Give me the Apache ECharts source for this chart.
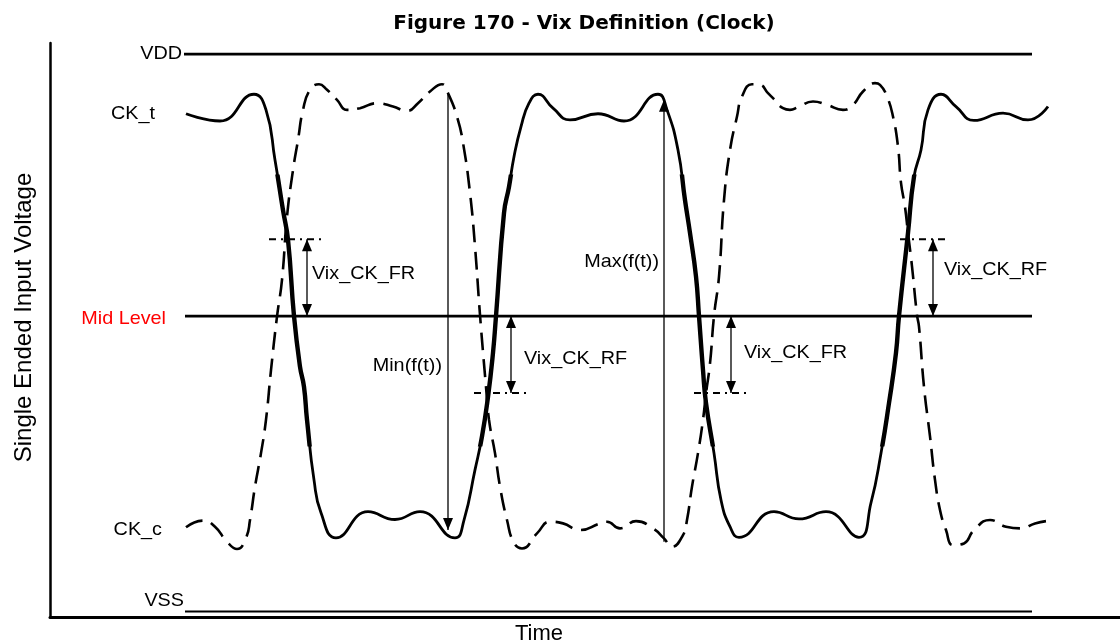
<!DOCTYPE html>
<html><head><meta charset="utf-8">
<script src="https://cdn.jsdelivr.net/npm/echarts@6/dist/echarts.min.js"></script>
<style>html,body{margin:0;padding:0;background:#fff}#c{width:1120px;height:644px}</style>
</head><body><div id="c"></div>
<script>
// ---- text ----
const titleText = 'Figure 170 - Vix Definition (Clock)';
const xName = 'Time';
const yName = 'Single Ended Input Voltage';

// ---- reference levels (voltage normalised: VSS = 0, VDD = 100) ----
const levelValues = [100, 53, 0];          // VDD, Mid Level, VSS
const levelStart  = [13.4, 13.5, 13.5];    // time
const levelEnd    = [98.2, 98.2, 98.2];

// ---- CK_t (solid) [time, voltage] ----
const ckT = [[13.6,89.3],[17.0,88.0],[20.4,92.8],[21.6,90.0],[22.5,81.0],[23.3,72.0],[23.8,66.7],[24.4,53.0],[25.0,43.9],[25.4,40.3],[25.7,34.4],[26.4,23.6],[27.1,17.7],[28.6,13.2],[31.8,17.9],[34.5,16.5],[37.0,17.9],[40.5,13.2],[41.4,16.4],[42.5,25.4],[43.2,31.4],[43.8,38.5],[44.3,46.4],[44.6,53.0],[45.4,71.5],[45.9,76.2],[46.4,81.6],[47.1,87.0],[47.9,91.2],[48.8,92.8],[50.3,90.3],[52.0,88.2],[54.8,89.3],[57.4,88.0],[60.8,92.8],[61.7,90.0],[62.8,82.8],[63.5,73.8],[64.0,67.9],[64.6,60.1],[64.9,53.0],[65.3,43.3],[65.6,37.4],[66.4,28.4],[67.1,20.0],[68.0,15.2],[68.9,13.3],[72.4,17.9],[74.9,16.6],[77.6,17.9],[80.9,13.3],[82.1,19.5],[83.1,28.4],[83.9,37.4],[84.6,46.4],[84.9,53.0],[85.8,67.9],[86.4,78.0],[87.1,82.8],[87.8,90.0],[89.1,92.8],[90.6,90.6],[92.4,88.1],[95.3,89.4],[97.8,88.2],[99.8,90.6]];

// ---- CK_c (dashed) [time, voltage] ----
const ckC = [[13.6,15.1],[15.3,16.3],[16.5,15.2],[17.7,12.5],[18.7,11.2],[19.6,13.2],[20.0,16.4],[20.5,22.4],[21.1,28.4],[21.6,34.4],[22.1,43.3],[22.7,52.9],[23.2,59.5],[23.7,70.8],[24.3,79.2],[24.8,84.6],[25.3,90.0],[26.0,93.6],[26.9,94.6],[27.7,93.6],[28.7,91.8],[29.7,90.0],[31.0,90.3],[32.7,91.2],[34.3,90.6],[35.7,89.8],[36.8,91.2],[38.0,93.3],[39.2,94.6],[39.8,93.0],[40.7,88.8],[41.3,84.1],[42.0,75.1],[42.5,65.5],[43.0,53.2],[43.6,40.3],[43.9,34.4],[44.5,28.4],[45.0,22.4],[45.7,16.4],[46.4,12.3],[47.2,11.3],[48.7,14.0],[50.0,16.1],[51.3,15.8],[53.0,14.6],[55.0,15.8],[55.7,16.1],[57.0,14.9],[58.6,16.2],[60.3,14.9],[61.4,13.1],[62.2,11.6],[63.3,13.7],[63.7,16.4],[64.2,22.4],[64.8,28.4],[65.3,34.4],[65.6,39.1],[66.0,44.5],[66.4,53.0],[66.9,60.1],[67.4,73.8],[68.0,82.8],[68.7,88.8],[69.2,92.4],[70.2,94.6],[71.0,94.5],[71.8,93.0],[72.3,92.1],[73.3,90.3],[74.0,90.0],[74.8,90.5],[76.3,91.5],[77.7,90.9],[79.3,90.0],[80.3,90.9],[81.3,93.3],[82.5,94.8],[83.0,94.5],[83.7,92.4],[84.3,88.8],[84.8,83.4],[85.1,76.9],[85.5,72.6],[85.8,67.9],[86.2,61.9],[86.7,53.2],[86.9,51.1],[87.4,40.3],[88.0,31.4],[88.5,23.6],[89.0,18.2],[89.6,14.6],[90.3,11.9],[91.4,12.2],[92.4,14.6],[94.0,16.4],[95.6,15.2],[97.1,14.9],[98.5,15.8],[99.6,16.2]];

// ---- Vix reference (dash-dot) lines [timeFrom, timeTo, voltage] ----
const vixLines = [[21.9,27.3,66.8],[42.4,47.9,39.2],[64.4,69.8,39.2],[85.0,90.0,66.8]];

// ---- arrows [time, vFrom, vTo, headAtFrom, headAtTo] ----
const arrows = [[25.7,66.8,53.0,1,1],[39.8,92.8,14.6,0,1],[46.1,53.0,39.2,1,1],[61.4,12.5,91.8,0,1],[68.1,53.0,39.2,1,1],[88.3,66.8,53.0,1,1]];

// ---- annotation labels ----
const labelTexts = ['VDD','CK_t','Mid Level','CK_c','VSS','Vix_CK_FR','Min(f(t))','Vix_CK_RF','Max(f(t))','Vix_CK_FR','Vix_CK_RF'];
const labelPos   = [[13.2,100],[10.5,89.3],[11.6,52.5],[11.2,14.6],[13.4,1.9],[26.2,60.6],[39.2,44.0],[47.4,45.3],[60.9,62.8],[69.4,46.3],[89.4,61.3]];
const labelAlign = ['right','right','right','right','right','left','right','left','right','left','left'];
const labelColor = ['#000','#000','#ff0000','#000','#000','#000','#000','#000','#000','#000','#000'];

// band of the CK_t edges drawn heavier (voltage range)
const edgeBand = [30, 78];

const FONT = '"Liberation Sans", Arial, sans-serif';
const Y_MIN = -1, Y_MAX = 102, GRID_TOP = 43, GRID_BOTTOM = 27, H = 644;
const pxPerV = (H - GRID_TOP - GRID_BOTTOM) / (Y_MAX - Y_MIN);

const hiddenAxis = {show:false};
const series = [];
levelValues.forEach((v, i) => {
  series.push({type:'line', silent:true, symbol:'none',
    data:[[levelStart[i], v],[levelEnd[i], v]],
    lineStyle:{color:'#000', width: i === 2 ? 2 : 2.7}});
});
vixLines.forEach(l => {
  series.push({type:'line', silent:true, symbol:'none',
    data:[[l[0], l[2]],[l[1], l[2]]],
    lineStyle:{color:'#000', width:2, type:[7,5,2,5]}});
});
series.push({name:'CK_c', type:'line', symbol:'none', smooth:0.5, data:ckC,
  lineStyle:{color:'#000', width:2.6, type:[18,9]}});
series.push({name:'CK_t', type:'line', symbol:'none', smooth:0.5, data:ckT,
  lineStyle:{color:'#000', width:2.8}});
// same CK_t curve on a grid clipped to the edge band -> heavier stroke on the edges
series.push({name:'CK_t edge', type:'line', symbol:'none', smooth:0.5, data:ckT, clip:true,
  xAxisIndex:1, yAxisIndex:1, lineStyle:{color:'#000', width:4.4}});
series.push({type:'custom', silent:true, data:arrows, encode:{x:0, y:[1,2]},
  renderItem:(params, api) => {
    const x = api.value(0);
    const p1 = api.coord([x, api.value(1)]), p2 = api.coord([x, api.value(2)]);
    const children = [{type:'line', shape:{x1:p1[0], y1:p1[1], x2:p2[0], y2:p2[1]}, style:{stroke:'#000', lineWidth:1.3}}];
    const head = (tip, from) => {
      const dx = tip[0]-from[0], dy = tip[1]-from[1];
      const L = Math.hypot(dx, dy) || 1, ux = dx/L, uy = dy/L, hl = 12, hw = 5;
      return {type:'polygon', shape:{points:[[tip[0], tip[1]],
        [tip[0]-ux*hl - uy*hw, tip[1]-uy*hl + ux*hw],
        [tip[0]-ux*hl + uy*hw, tip[1]-uy*hl - ux*hw]]}, style:{fill:'#000'}};
    };
    if (api.value(3)) children.push(head(p1, p2));
    if (api.value(4)) children.push(head(p2, p1));
    return {type:'group', children};
  }});
series.push({type:'custom', silent:true, data:labelPos,
  renderItem:(params, api) => {
    const i = params.dataIndex;
    const p = api.coord([api.value(0), api.value(1)]);
    return {type:'text', x:p[0], y:p[1], scaleX:1.07,
      style:{text:labelTexts[i], fill:labelColor[i], fontSize:18.5, fontFamily:FONT,
        align:labelAlign[i], verticalAlign:'middle'}};
  }});

const chart = echarts.init(document.getElementById('c'), null, {renderer:'canvas'});
chart.setOption({
  animation:false,
  backgroundColor:'#fff',
  title:{text:titleText, left:584, top:14, textAlign:'center', padding:0,
    textStyle:{fontFamily:'"DejaVu Sans"', fontWeight:'bold', fontSize:20, color:'#000'}},
  grid:[
    {left:50, right:0, top:GRID_TOP, bottom:GRID_BOTTOM, containLabel:false, outerBoundsMode:'none'},
    {left:50, right:0, top:GRID_TOP + (Y_MAX - edgeBand[1]) * pxPerV,
      bottom:GRID_BOTTOM + (edgeBand[0] - Y_MIN) * pxPerV, containLabel:false, outerBoundsMode:'none'}
  ],
  xAxis:[
    {type:'value', min:0, max:107, name:xName, nameLocation:'middle', nameGap:6,
      nameTextStyle:{fontFamily:FONT, fontSize:22, color:'#000', padding:[0,92,0,0]},
      axisLine:{show:true, onZero:false, lineStyle:{color:'#000', width:3}},
      axisTick:{show:false}, axisLabel:{show:false}, splitLine:{show:false}},
    {type:'value', gridIndex:1, min:0, max:107, show:false, splitLine:{show:false}}
  ],
  yAxis:[
    {type:'value', min:Y_MIN, max:Y_MAX, name:yName, nameLocation:'middle', nameGap:14,
      nameTextStyle:{fontFamily:FONT, fontSize:24, color:'#000', padding:[0,0,0,25]},
      axisLine:{show:true, onZero:false, lineStyle:{color:'#000', width:2.5}},
      axisTick:{show:false}, axisLabel:{show:false}, splitLine:{show:false}},
    {type:'value', gridIndex:1, min:edgeBand[0], max:edgeBand[1], show:false, splitLine:{show:false}}
  ],
  series
});
</script></body></html>
